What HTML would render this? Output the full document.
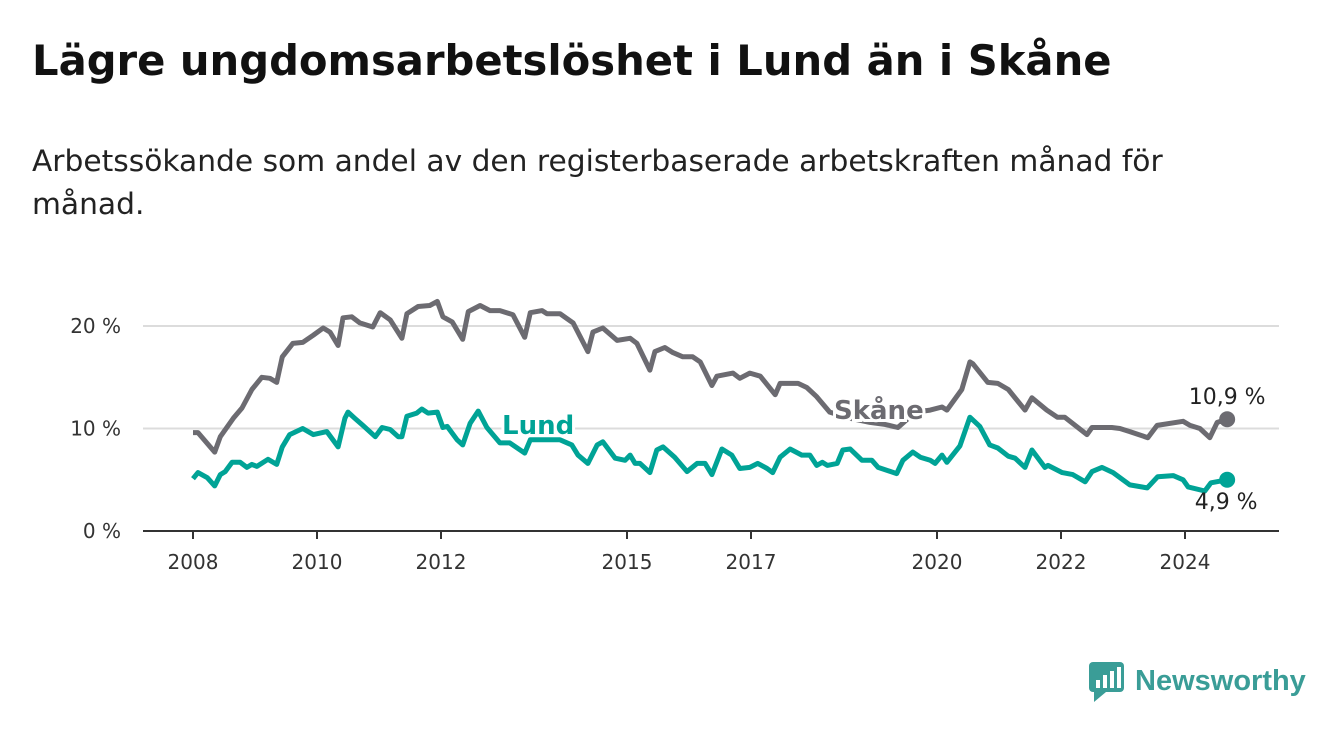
<!DOCTYPE html>
<html><head><meta charset="utf-8"><style>
body{margin:0;background:#fff;width:1340px;height:734px;overflow:hidden;font-family:"DejaVu Sans","Liberation Sans",sans-serif;color:#111}
h1{position:absolute;left:32px;top:36px;margin:0;font-size:41.7px;font-weight:bold;white-space:nowrap}
p{position:absolute;left:32px;top:140px;margin:0;font-size:29.7px;line-height:43px;width:1180px;color:#222}
svg{position:absolute;left:0;top:0}
</style></head><body>
<h1>Lägre ungdomsarbetslöshet i Lund än i Skåne</h1>
<p>Arbetssökande som andel av den registerbaserade arbetskraften månad för månad.</p>
<svg id="chart" width="1340" height="734" font-family="DejaVu Sans, Liberation Sans, sans-serif"></svg>
<script>
const yTicks=[0,10,20];
const xTicks=[2008,2010,2012,2015,2017,2020,2022,2024];
const skaneDates=[2008.00,2008.08,2008.35,2008.44,2008.65,2008.79,2008.95,2009.11,2009.24,2009.35,2009.44,2009.61,2009.77,2009.94,2010.10,2010.21,2010.34,2010.42,2010.56,2010.69,2010.90,2011.02,2011.18,2011.37,2011.45,2011.63,2011.82,2011.94,2012.03,2012.18,2012.35,2012.44,2012.63,2012.79,2012.95,2013.16,2013.35,2013.44,2013.63,2013.71,2013.92,2014.13,2014.37,2014.45,2014.61,2014.84,2015.05,2015.16,2015.37,2015.45,2015.61,2015.74,2015.90,2016.06,2016.18,2016.37,2016.45,2016.71,2016.82,2016.98,2017.15,2017.39,2017.47,2017.76,2017.90,2018.06,2018.27,2018.60,2018.92,2019.16,2019.37,2019.65,2019.89,2020.08,2020.16,2020.40,2020.53,2020.58,2020.82,2020.98,2021.15,2021.42,2021.53,2021.77,2021.94,2022.06,2022.42,2022.50,2022.82,2022.95,2023.11,2023.40,2023.55,2023.97,2024.08,2024.24,2024.40,2024.52,2024.68];
const skaneValues=[9.6,9.6,7.7,9.2,11.0,12.0,13.8,15.0,14.9,14.5,17.0,18.3,18.4,19.1,19.8,19.4,18.1,20.8,20.9,20.3,19.9,21.3,20.6,18.8,21.2,21.9,22.0,22.4,20.9,20.4,18.7,21.4,22.0,21.5,21.5,21.1,18.9,21.3,21.5,21.2,21.2,20.3,17.5,19.4,19.8,18.6,18.8,18.3,15.7,17.5,17.9,17.4,17.0,17.0,16.5,14.2,15.1,15.4,14.9,15.4,15.1,13.3,14.4,14.4,14.0,13.1,11.6,11.0,10.6,10.4,10.1,11.6,11.8,12.1,11.8,13.8,16.5,16.3,14.5,14.4,13.8,11.8,13.0,11.8,11.1,11.1,9.4,10.1,10.1,10.0,9.7,9.1,10.3,10.7,10.3,10.0,9.1,10.6,10.9];
const lundDates=[2008.00,2008.08,2008.23,2008.35,2008.44,2008.52,2008.63,2008.76,2008.87,2008.95,2009.03,2009.21,2009.35,2009.44,2009.56,2009.77,2009.94,2010.16,2010.34,2010.45,2010.50,2010.61,2010.74,2010.94,2011.05,2011.18,2011.31,2011.37,2011.45,2011.61,2011.69,2011.79,2011.94,2012.03,2012.10,2012.26,2012.35,2012.47,2012.60,2012.74,2012.95,2013.11,2013.35,2013.44,2013.76,2013.92,2014.11,2014.21,2014.37,2014.52,2014.61,2014.81,2014.97,2015.05,2015.13,2015.21,2015.37,2015.48,2015.58,2015.77,2015.97,2016.13,2016.26,2016.37,2016.53,2016.69,2016.82,2016.98,2017.11,2017.26,2017.35,2017.47,2017.63,2017.82,2017.95,2018.06,2018.15,2018.23,2018.39,2018.48,2018.60,2018.79,2018.95,2019.05,2019.35,2019.45,2019.61,2019.73,2019.89,2019.97,2020.08,2020.16,2020.37,2020.53,2020.69,2020.85,2020.98,2021.15,2021.26,2021.42,2021.53,2021.74,2021.79,2022.02,2022.19,2022.39,2022.50,2022.66,2022.84,2023.11,2023.39,2023.56,2023.81,2023.97,2024.05,2024.32,2024.42,2024.68];
const lundValues=[5.1,5.7,5.2,4.4,5.5,5.8,6.7,6.7,6.2,6.5,6.3,7.0,6.5,8.2,9.4,10.0,9.4,9.7,8.2,11.0,11.6,11.0,10.3,9.2,10.1,9.9,9.2,9.2,11.2,11.5,11.9,11.5,11.6,10.1,10.2,8.9,8.4,10.5,11.7,10.1,8.6,8.6,7.6,8.9,8.9,8.9,8.4,7.4,6.6,8.4,8.7,7.1,6.9,7.4,6.6,6.6,5.7,7.9,8.2,7.2,5.8,6.6,6.6,5.5,8.0,7.4,6.1,6.2,6.6,6.1,5.7,7.2,8.0,7.4,7.4,6.4,6.7,6.4,6.6,7.9,8.0,6.9,6.9,6.2,5.6,6.9,7.7,7.2,6.9,6.6,7.4,6.7,8.3,11.1,10.2,8.4,8.1,7.3,7.1,6.2,7.9,6.2,6.4,5.7,5.5,4.8,5.8,6.2,5.7,4.5,4.2,5.3,5.4,5.0,4.3,3.9,4.7,5.0];
const svg=document.getElementById('chart');const NS='http://www.w3.org/2000/svg';
const X=y=>193+(y-2008)*62; const Y=v=>531-v*10.25;
function mk(t,a,txt){const e=document.createElementNS(NS,t);for(const k in a)e.setAttribute(k,a[k]);if(txt!=null)e.textContent=txt;svg.appendChild(e);return e;}
yTicks.forEach(t=>{
 const l=mk('line',{x1:143,x2:1279,y1:Y(t),y2:Y(t),stroke:t===0?'#333':'#dcdcdc','stroke-width':2});
 
 
 const tx=mk('text',{x:121,y:Y(t)+7,'text-anchor':'end','font-size':20,fill:'#333'},t+' %');
 
 
});
xTicks.forEach(t=>{
 const l=mk('line',{x1:X(t),x2:X(t),y1:531,y2:539,stroke:'#333','stroke-width':2});
 
 
 const tx=mk('text',{x:X(t),y:569,'text-anchor':'middle','font-size':20,fill:'#333'},String(t));
 
 
});
function line(d,v,c,name){
 const p=mk('path',{d:d.map((t,i)=>(i?'L':'M')+X(t).toFixed(1)+','+Y(v[i]).toFixed(1)).join(''),fill:'none',stroke:c,'stroke-width':5,'stroke-linejoin':'round'});
 
 
 const n=d.length-1;
 const c1=mk('circle',{cx:X(d[n]),cy:Y(v[n]),r:8,fill:c});
 
 
}
line(skaneDates,skaneValues,'#6c6b71','skane');
line(lundDates,lundValues,'#00a396','lund');
function lab(x,y,t,c,name,bold,size){
 const e=mk('text',{x:x,y:y,'font-size':size,'font-weight':bold?'bold':'normal',fill:c,stroke:'#fff','stroke-width':bold?6:0,'paint-order':'stroke','text-anchor':bold?'start':'middle'},t);
 
 
}
lab(502,434,'Lund','#00a396','lund-series-label',true,26);
lab(834,419,'Skåne','#6c6b71','skane-series-label',true,26);
lab(X(skaneDates[skaneDates.length-1]),404,'10,9 %','#222','skane-last-value',false,22);
lab(X(lundDates[lundDates.length-1])-1,509,'4,9 %','#222','lund-last-value',false,22);
</script>
<svg width="1340" height="734" style="pointer-events:none">
<rect x="1089" y="662" width="35" height="30" rx="4" fill="#3a9d97"/>
<polygon points="1094,692 1106,692 1094,702" fill="#3a9d97"/>
<rect x="1096" y="680" width="4" height="8" fill="#fff"/><rect x="1103" y="675" width="4" height="13" fill="#fff"/><rect x="1110" y="671" width="4" height="17" fill="#fff"/><rect x="1117" y="667" width="4" height="21" fill="#fff"/>
<text x="1135" y="690" font-size="29" font-weight="bold" fill="#3a9d97" font-family="Liberation Sans, sans-serif">Newsworthy</text>
</svg>
</body></html>
